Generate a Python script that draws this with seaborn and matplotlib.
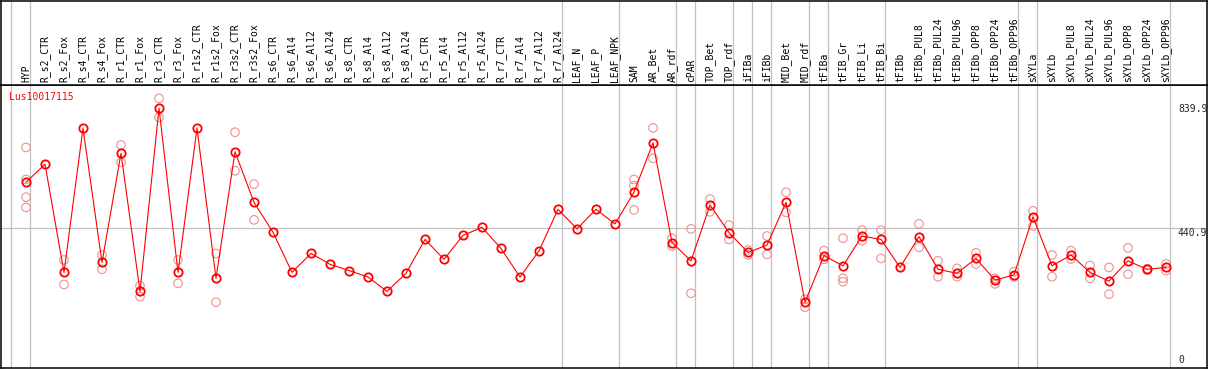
import matplotlib
matplotlib.use("Agg")
import matplotlib.pyplot as plt
import matplotlib.transforms as mtransforms
import seaborn as sns
import pandas as pd

sns.set_style("white")
plt.rcParams['font.family'] = ['DejaVu Sans Mono', 'DejaVu Sans']

gene = "Lus10017115"

samples = ["HYP", "R_s2_CTR", "R_s2_Fox", "R_s4_CTR", "R_s4_Fox", "R_r1_CTR", "R_r1_Fox",
           "R_r3_CTR", "R_r3_Fox", "R_r1s2_CTR", "R_r1s2_Fox", "R_r3s2_CTR", "R_r3s2_Fox",
           "R_s6_CTR", "R_s6_Al4", "R_s6_Al12", "R_s6_Al24", "R_s8_CTR", "R_s8_Al4",
           "R_s8_Al12", "R_s8_Al24", "R_r5_CTR", "R_r5_Al4", "R_r5_Al12", "R_r5_Al24",
           "R_r7_CTR", "R_r7_Al4", "R_r7_Al12", "R_r7_Al24", "LEAF_N", "LEAF_P", "LEAF_NPK",
           "SAM", "AR_Bet", "AR_rdf", "cPAR", "TOP_Bet", "TOP_rdf", "iFIBa", "iFIBb",
           "MID_Bet", "MID_rdf", "tFIBa", "tFIB_Gr", "tFIB_Li", "tFIB_Bi", "tFIBb",
           "tFIBb_PUL8", "tFIBb_PUL24", "tFIBb_PUL96", "tFIBb_OPP8", "tFIBb_OPP24",
           "tFIBb_OPP96", "sXYLa", "sXYLb", "sXYLb_PUL8", "sXYLb_PUL24", "sXYLb_PUL96",
           "sXYLb_OPP8", "sXYLb_OPP24", "sXYLb_OPP96"]

means = [588, 646, 298, 762, 330, 681, 237, 826, 298, 762, 279, 686, 523,
         427, 298, 359, 324, 304, 283, 237, 295, 404, 340, 417, 443, 375, 283, 367, 501,
         438, 501, 454, 556, 715, 394, 335, 515, 426, 362, 386, 523, 202,
         352, 319, 415, 404, 314, 413, 308, 295, 343, 273, 290,
         477, 319, 354, 298, 270, 335, 308, 314]

replicates = [[700, 597, 540, 507], [], [338, 259], [], [354, 308], [708, 652], [255, 220],
              [858, 797], [338, 263], [], [359, 202], [749, 625], [582, 467],
              [], [], [], [], [], [], [], [], [], [], [], [], [], [], [], [],
              [], [], [], [597, 577, 499], [763, 665], [408, 383], [438, 231],
              [534, 493], [450, 404], [370, 354], [415, 356], [556, 491], [212, 186],
              [368, 340], [408, 279, 268], [434, 400], [434, 343], [],
              [454, 379], [335, 284], [311, 284], [361, 325], [279, 261], [300, 284],
              [496, 447], [354, 284], [368, 341], [320, 279], [314, 228], [377, 292],
              [306, 310], [325, 304]]

# last sample index of each group (separator lines)
group_ends = [-1, 0, 28, 31, 34, 35, 37, 38, 39, 41, 42, 45, 52, 53, 60]
value_labels = [839.9, 440.9, 0]
ref_line = 440.9

df_mean = pd.DataFrame({"sample": samples, "pos": range(len(samples)), "value": means})
rows = []
for i, vals in enumerate(replicates):
    for v in vals:
        rows.append({"sample": samples[i], "pos": i, "value": v})
df_rep = pd.DataFrame(rows)

W, H = 1209, 370
fig = plt.figure(figsize=(W / 100, H / 100), dpi=100)
ax = fig.add_axes([1 / W, 2 / H, 1206 / W, 283 / H])
hx = fig.add_axes([1 / W, 285 / H, 1206 / W, 84.5 / H], sharex=ax)

grid_col = "#c0c0c0"
for a in (ax, hx):
    for b in group_ends:
        a.axvline(b + 0.22, color=grid_col, lw=0.9, zorder=0)
    for s in a.spines.values():
        s.set_color("black")
        s.set_linewidth(1.1)
    a.tick_params(left=False, bottom=False, labelleft=False, labelbottom=False)
ax.axhline(ref_line, color=grid_col, lw=0.9, zorder=0)

sns.scatterplot(data=df_rep, x="pos", y="value", ax=ax, marker="o", s=38,
                facecolor="none", edgecolor="#f09090", linewidth=0.8, zorder=2, legend=False)
sns.lineplot(data=df_mean, x="pos", y="value", ax=ax, color="red", lw=0.8, errorbar=None,
             marker="o", ms=6, mfc="none", mec="red", mew=1.3, zorder=3)

ax.set_xlim(-1.316, 62.158)
ax.set_ylim(-9.65, 900.9)
ax.set_xlabel("")
ax.set_ylabel("")

trans = mtransforms.blended_transform_factory(hx.transData, hx.transAxes)
for i, name in enumerate(samples):
    hx.text(i, 0.03, name, rotation=90, ha="center", va="bottom", fontsize=7,
            transform=trans, color="black")
hx.set_ylim(0, 1)

ax.text(0.0066, 0.957, gene, transform=ax.transAxes, color="red", fontsize=7,
        ha="left", va="center")
for v in value_labels:
    ax.text(60.63, v, f"{v:g}" if v == 0 else f"{v}", fontsize=7, ha="left",
            va="bottom" if v == 0 else "top", clip_on=True)

fig.savefig("out.png", dpi=100)
